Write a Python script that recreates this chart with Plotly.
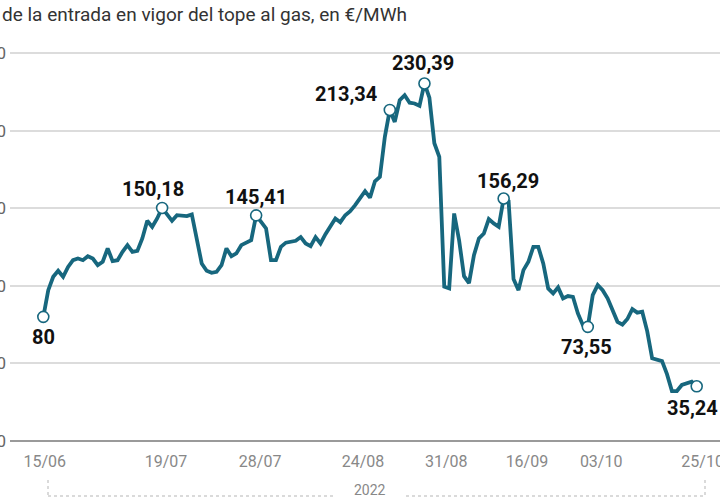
import plotly.graph_objects as go

# Daily gas price since the start of the gas cap (day index from 15/06/2022), €/MWh
dia = [0, 1, 2, 3, 4, 5, 6, 7, 8, 9, 10, 11, 12, 13, 14, 15, 16, 17, 18, 19, 20,
       21, 22, 23, 24, 25, 26, 27, 29, 30, 31, 32, 33, 34, 35, 36, 37, 38, 39, 40,
       42, 43, 44, 45, 46, 47, 48, 49, 51, 52, 53, 54, 55, 56, 57, 59, 60, 61, 62,
       63, 65, 66, 67, 68, 69, 70, 71, 72, 73, 74, 75, 76, 77, 78, 79, 80, 81, 82,
       83, 84, 85, 86, 87, 88, 89, 90, 91, 92, 93, 94, 95, 96, 97, 98, 99, 100, 101,
       102, 103, 104, 105, 106, 107, 108, 109, 110, 111, 112, 113, 114, 116, 117,
       118, 119, 120, 121, 122, 123, 125, 126, 127, 128, 129, 130, 131, 132]
precio = [80, 97.2, 105.8, 109.7, 105.8, 112.2, 116.5, 117.6, 116.5, 119.1, 117.6,
          113.3, 115.5, 124.1, 115.9, 116.5, 121.9, 126.2, 121.9, 122.5, 130.5,
          141.9, 138.0, 143.4, 150.18, 145.5, 141.9, 145.5, 144.9, 146.0, 131.6,
          114.4, 109.7, 108.4, 109.0, 113.3, 124.1, 119.1, 120.9, 126.2,
          129.4, 145.41, 141.2, 137.0, 116.5, 116.5, 125.1, 127.8, 129.0, 131.4,
          127.3, 125.6, 131.4, 127.3, 133.3, 143.4, 141.0, 145.5, 148.1,
          152.0, 161.0, 156.8, 167.4, 170.2, 196.0, 213.34, 205.6, 219.6, 222.8,
          218.0, 217.5, 216.0, 230.39, 221.2, 191.9, 183.1, 99.4, 98.3,
          146.6, 129.4, 106.2, 101.7, 119.8, 130.5, 133.7, 143.0, 140.2, 138.0,
          156.29, 154.5, 104.3, 97.2, 110.1, 115.5, 125.1, 125.1, 114.4,
          98.3, 95.1, 99.0, 91.9, 93.4, 92.9, 82.2, 74.7, 73.55, 94.0, 100.5, 97.2,
          91.9, 76.8, 75.0, 78.6, 85.0, 82.7, 83.3, 70.8, 53.3, 51.5, 43.1, 32.2,
          32.2, 36.1, 37.2, 38.2, 35.24]

# Highlighted points
dest_dia = [0, 24, 43, 70, 77, 93, 110, 132]
dest_valor = [80, 150.18, 145.41, 213.34, 230.39, 156.29, 73.55, 35.24]
dest_texto = ["80", "150,18", "145,41", "213,34", "230,39", "156,29", "73,55", "35,24"]

# X tick labels and their positions (day index)
tick_pos = [0.3, 24.8, 43.8, 64.6, 81.4, 97.7, 112.7, 133.2]
tick_txt = ["15/06", "19/07", "28/07", "24/08", "31/08", "16/09", "03/10", "25/10"]

y_ticks = [0, 50, 100, 150, 200, 250]

TEAL = "#17677e"

fig = go.Figure()
fig.add_trace(go.Scatter(
    x=dia, y=precio, mode="lines",
    line=dict(color=TEAL, width=3.8), hoverinfo="skip", showlegend=False))
fig.add_trace(go.Scatter(
    x=dest_dia, y=dest_valor, mode="markers",
    marker=dict(size=11, color="white", line=dict(color=TEAL, width=1.6)),
    hoverinfo="skip", showlegend=False, cliponaxis=False))

# label offsets (xshift, yshift) in pixels
offs = [(0, -20), (-9, 19), (0, 18), (-44, 16), (-1, 20), (4, 17), (-1, -20), (-4, -22)]
for d, v, t, (dx, dy) in zip(dest_dia, dest_valor, dest_texto, offs):
    fig.add_annotation(x=d, y=v, text=t, showarrow=False, xshift=dx, yshift=dy,
                       xanchor="center", yanchor="middle",
                       font=dict(family="Roboto", size=20, color="#111111", weight="bold"))

# Title (cropped)
fig.add_annotation(xref="paper", yref="paper", x=-10/710, y=1 + 25/410,
                   xanchor="left", yanchor="middle", showarrow=False,
                   text="de la entrada en vigor del tope al gas, en €/MWh",
                   font=dict(family="Roboto", size=19, color="#333333"))

# year bracket
def px_to_paper_x(px):
    return (px - 10) / 710

def py_to_paper_y(py):
    return (450 - py) / 410

dot = dict(color="#b5b5b5", width=1, dash="dot")
xl, xr = px_to_paper_x(48), px_to_paper_x(705)
yt, yb = py_to_paper_y(480), py_to_paper_y(496)
fig.add_shape(type="line", xref="paper", yref="paper", x0=xl, x1=xl, y0=yt, y1=yb, line=dot)
fig.add_shape(type="line", xref="paper", yref="paper", x0=xr, x1=xr, y0=yt, y1=yb, line=dot)
fig.add_shape(type="line", xref="paper", yref="paper", x0=xl, x1=px_to_paper_x(335), y0=yb, y1=yb, line=dot)
fig.add_shape(type="line", xref="paper", yref="paper", x0=px_to_paper_x(406), x1=xr, y0=yb, y1=yb, line=dot)
fig.add_annotation(xref="paper", yref="paper", x=px_to_paper_x(370), y=py_to_paper_y(490),
                   text="2022", showarrow=False, xanchor="center", yanchor="middle",
                   font=dict(family="Roboto", size=14, color="#888888"))

fig.update_layout(
    width=720, height=500,
    margin=dict(l=10, r=0, t=40, b=50),
    paper_bgcolor="white", plot_bgcolor="white",
    xaxis=dict(range=[-6.73, 136.71], tickvals=tick_pos, ticktext=tick_txt,
               showgrid=False, zeroline=False, showline=False, ticks="",
               automargin=False, ticklabeloverflow="allow",
               tickfont=dict(family="Roboto", size=16, color="#888888")),
    yaxis=dict(range=[-5.8, 258.4], tickvals=y_ticks, showgrid=True,
               gridcolor="#dcdcdc", gridwidth=1.5, zeroline=True,
               zerolinecolor="#9a9a9a", zerolinewidth=2, showline=False, ticks="",
               automargin=False, ticklabelstandoff=3, ticklabeloverflow="allow",
               tickfont=dict(family="Roboto", size=17, color="#666666")),
)

fig.write_html("out.html")
